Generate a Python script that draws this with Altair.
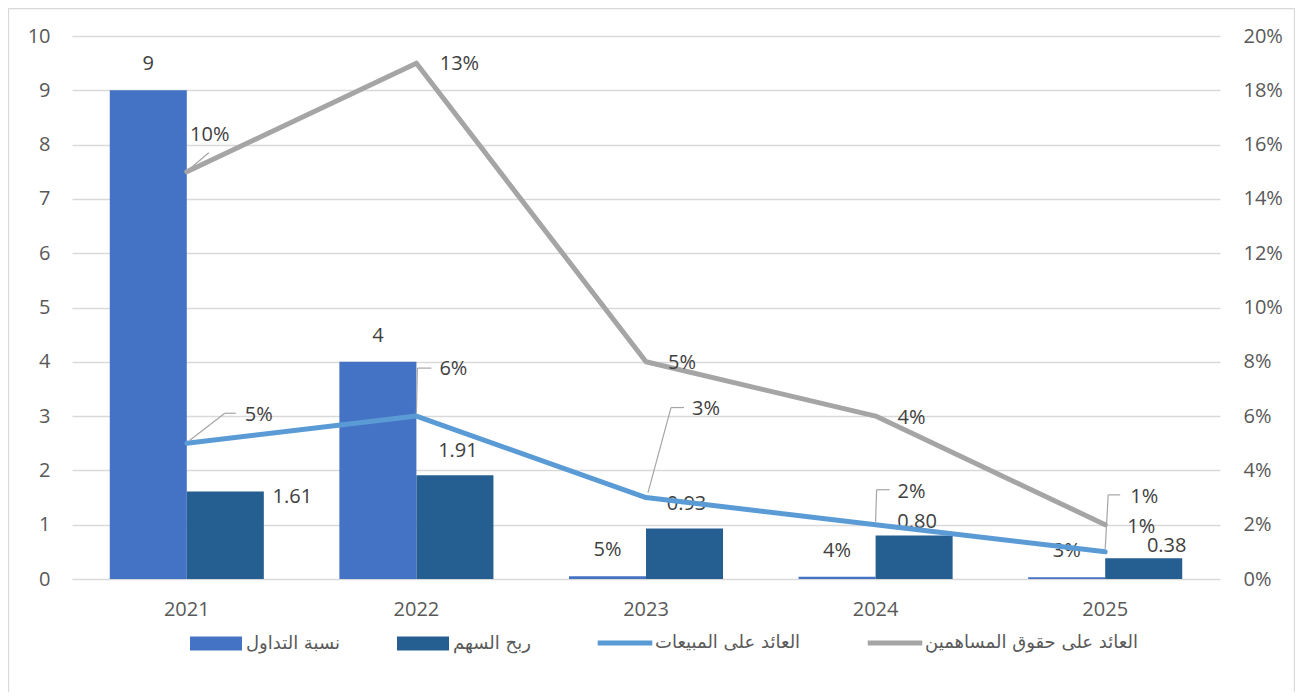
import altair as alt
import pandas as pd

# ---------------- data ----------------
years = ["2021", "2022", "2023", "2024", "2025"]
series_names = ["نسبة التداول", "ربح السهم", "العائد على المبيعات", "العائد على حقوق المساهمين"]
series_colors = ["#4472C4", "#255E91", "#5B9BD5", "#A5A5A5"]

current_ratio = [9, 4, 0.05, 0.04, 0.03]
current_ratio_labels = ["9", "4", "5%", "4%", "3%"]
eps = [1.61, 1.91, 0.93, 0.80, 0.38]
eps_labels = ["1.61", "1.91", "0.93", "0.80", "0.38"]
ros = [0.05, 0.06, 0.03, 0.02, 0.01]
ros_labels = ["5%", "6%", "3%", "2%", "1%"]
roe = [0.15, 0.19, 0.08, 0.06, 0.02]
roe_labels = ["10%", "13%", "5%", "4%", "1%"]

left_ticks = list(range(0, 11))
right_ticks = [i / 50 for i in range(0, 11)]

rows = []
for name, vals, labs in [
    (series_names[0], current_ratio, current_ratio_labels),
    (series_names[1], eps, eps_labels),
    (series_names[2], ros, ros_labels),
    (series_names[3], roe, roe_labels),
]:
    for yr, v, lab in zip(years, vals, labs):
        rows.append({"year": yr, "series": name, "value": v, "label": lab})
df = pd.DataFrame(rows)
bar_df = df[df["series"].isin(series_names[:2])]
line_df = df[df["series"].isin(series_names[2:])]

# ---------------- style ----------------
FONT = "Open Sans"
AXIS_COLOR = "#595959"
TEXT_COLOR = "#404040"
GRID = "#D9D9D9"

# label offsets (pixels) relative to each point
eps_off = {"2021": (67, 5), "2022": (3, -24), "2023": (2, -25), "2024": (3, -14), "2025": (23, -12)}
ros_off = {"2021": (72, -28), "2022": (37, -47), "2023": (60, -89), "2024": (36, -33), "2025": (39, -55)}
roe_off = {"2021": (23, -37), "2022": (43, 1), "2023": (36, 1), "2024": (36, 2), "2025": (36, 2)}
ros_leaders = {
    "2021": [(3, -3), (38, -30), (49, -30)],
    "2022": [(0, -3), (1, -48), (15, -48)],
    "2023": [(2, -5), (25, -90), (38, -90)],
    "2024": [(0, -3), (1, -35), (14, -35)],
    "2025": [(0, -3), (3, -57), (15, -57)],
}
roe_leaders = {"2021": [(3, -3), (22, -19)]}

X = alt.X(
    "year:N", sort=years, title=None,
    scale=alt.Scale(domain=years, paddingInner=0.329, paddingOuter=0.1645),
    axis=alt.Axis(labelFont=FONT, labelFontSize=20, labelColor=AXIS_COLOR, labelPadding=20,
                  ticks=False, domain=False, grid=False, labelAngle=0),
)
XOFF = alt.XOffset("series:N", sort=series_names[:2], scale=alt.Scale(domain=series_names[:2]))

Y_LEFT = alt.Y(
    "value:Q", title=None,
    scale=alt.Scale(domain=[0, 10], nice=False),
    axis=alt.Axis(values=left_ticks, orient="left", labelFont=FONT, labelFontSize=20,
                  labelColor=AXIS_COLOR, labelPadding=22, ticks=False, domain=False,
                  grid=True, gridColor=GRID, gridWidth=1.3),
)
Y_RIGHT = alt.Y(
    "value:Q", title=None,
    scale=alt.Scale(domain=[0, 0.2], nice=False),
    axis=alt.Axis(values=right_ticks, orient="right", format=".0%", labelFont=FONT,
                  labelFontSize=20, labelColor=AXIS_COLOR, labelPadding=23, ticks=False,
                  domain=False, grid=False),
)

legend = alt.Legend(
    title=None, orient="none", legendX=135, legendY=598, direction="horizontal",
    labelFont="DejaVu Sans", labelFontSize=18, labelColor=AXIS_COLOR, labelOffset=21,
    columnPadding=56, symbolSize=2704, padding=0, labelLimit=0,
    symbolType=alt.ExprRef(expr="datum.index < 2 ? 'M-1,-0.27H1V0.27H-1Z' : 'M-1.05,0H1.05'"),
    symbolStrokeWidth=alt.ExprRef(expr="datum.index < 2 ? 0 : 5"),
    symbolOpacity=1,
)
COLOR = alt.Color("series:N", sort=series_names,
                  scale=alt.Scale(domain=series_names, range=series_colors), legend=legend)

def txt(dx, dy):
    return dict(dx=dx, dy=dy, align="center", baseline="middle", font=FONT,
                fontSize=20, color=TEXT_COLOR)

# ---------------- bar group (left axis) ----------------
bar_base = alt.Chart(bar_df)
bars = bar_base.mark_bar().encode(x=X, xOffset=XOFF, y=Y_LEFT, color=COLOR)
bar_layers = [bars]
bar_layers.append(
    bar_base.transform_filter(alt.datum.series == series_names[0])
    .mark_text(**txt(0, -26)).encode(x=X, xOffset=XOFF, y=Y_LEFT, text="label:N")
)
for yr in years:
    dx, dy = eps_off[yr]
    bar_layers.append(
        bar_base.transform_filter((alt.datum.series == series_names[1]) & (alt.datum.year == yr))
        .mark_text(**txt(dx, dy)).encode(x=X, xOffset=XOFF, y=Y_LEFT, text="label:N")
    )
bar_group = alt.layer(*bar_layers)

# ---------------- line group (right axis) ----------------
line_base = alt.Chart(line_df)
lines = line_base.mark_line(strokeWidth=5, strokeCap="round", strokeJoin="round").encode(
    x=X, y=Y_RIGHT, color=COLOR, order=alt.Order("year:N")
)
line_layers = [lines]

def leader_layers(series, spec):
    out = []
    for yr, pts in spec.items():
        for a, b in zip(pts[:-1], pts[1:]):
            out.append(
                line_base.transform_filter((alt.datum.series == series) & (alt.datum.year == yr))
                .mark_rule(color="#A6A6A6", strokeWidth=1.2,
                           xOffset=a[0], yOffset=a[1], x2Offset=b[0], y2Offset=b[1])
                .encode(x=alt.X("year:N", sort=years, bandPosition=0.5),
                        x2=alt.X2("year"), y=Y_RIGHT, y2=alt.Y2("value"))
            )
    return out

line_layers += leader_layers(series_names[2], ros_leaders)
line_layers += leader_layers(series_names[3], roe_leaders)

for series, offs in [(series_names[2], ros_off), (series_names[3], roe_off)]:
    for yr in years:
        dx, dy = offs[yr]
        line_layers.append(
            line_base.transform_filter((alt.datum.series == series) & (alt.datum.year == yr))
            .mark_text(**txt(dx, dy)).encode(x=X, y=Y_RIGHT, text="label:N")
        )
line_group = alt.layer(*line_layers)

# ---------------- frame ----------------
frame_base = alt.Chart(pd.DataFrame({"k": [0]}))
frame = alt.layer(
    frame_base.mark_rule(color=GRID, strokeWidth=1.3).encode(
        x=alt.value(-63.5), y=alt.value(-27.5), y2=alt.value(700)),
    frame_base.mark_rule(color=GRID, strokeWidth=1.3).encode(
        x=alt.value(-63.5), x2=alt.value(1222.5), y=alt.value(-27.5)),
    frame_base.mark_rule(color=GRID, strokeWidth=1.3).encode(
        x=alt.value(1222.5), y=alt.value(-27.5), y2=alt.value(700)),
)

chart = (
    alt.layer(bar_group, line_group, frame)
    .resolve_scale(y="independent")
    .properties(
        width=1148, height=543,
        autosize=alt.AutoSizeParams(type="none"),
        padding={"left": 64, "top": 28, "right": 75, "bottom": 113},
        background="white",
    )
    .configure_view(stroke=None)
)

chart.save("out.html", embed_options={"renderer": "svg", "actions": False})
